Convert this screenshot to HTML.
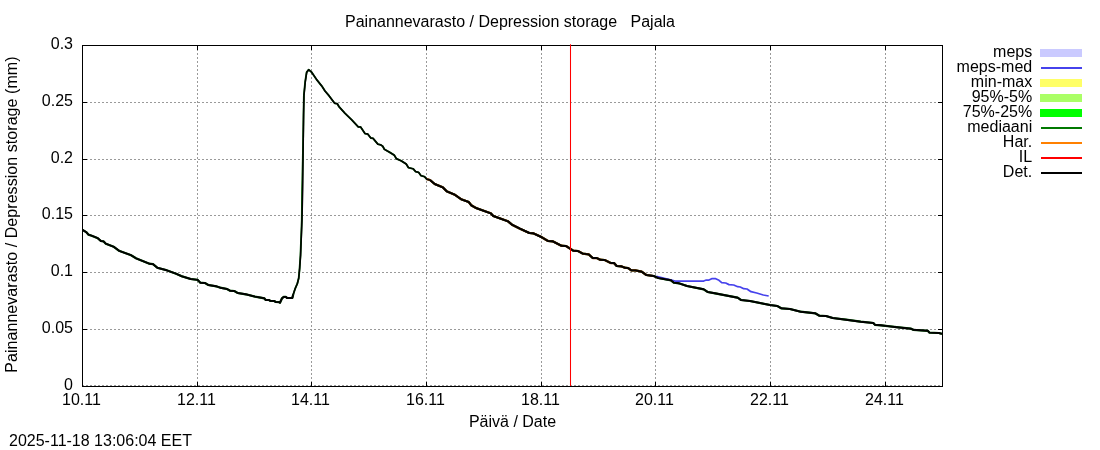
<!DOCTYPE html>
<html><head><meta charset="utf-8"><title>Painannevarasto / Depression storage Pajala</title>
<style>html,body{margin:0;padding:0;background:#fff;}svg{display:block;}text{font-family:"Liberation Sans",sans-serif;font-size:16px;fill:#000;}</style></head><body>
<svg width="1100" height="450" viewBox="0 0 1100 450" style="will-change:transform">
<rect x="0" y="0" width="1100" height="450" fill="#ffffff"/>
<g stroke="#9a9a9a" stroke-width="1" stroke-dasharray="2 2" fill="none">
<line x1="82" y1="102.5" x2="942" y2="102.5"/>
<line x1="82" y1="159.5" x2="942" y2="159.5"/>
<line x1="82" y1="215.5" x2="942" y2="215.5"/>
<line x1="82" y1="272.5" x2="942" y2="272.5"/>
<line x1="82" y1="329.5" x2="942" y2="329.5"/>
<line x1="82" y1="385.5" x2="942" y2="385.5"/>
<line x1="197.5" y1="45" x2="197.5" y2="386"/>
<line x1="311.5" y1="45" x2="311.5" y2="386"/>
<line x1="426.5" y1="45" x2="426.5" y2="386"/>
<line x1="541.5" y1="45" x2="541.5" y2="386"/>
<line x1="655.5" y1="45" x2="655.5" y2="386"/>
<line x1="770.5" y1="45" x2="770.5" y2="386"/>
<line x1="885.5" y1="45" x2="885.5" y2="386"/>
</g>
<g stroke="#000" stroke-width="1" fill="none">
<line x1="82" y1="102.5" x2="87" y2="102.5"/>
<line x1="943" y1="102.5" x2="938" y2="102.5"/>
<line x1="82" y1="159.5" x2="87" y2="159.5"/>
<line x1="943" y1="159.5" x2="938" y2="159.5"/>
<line x1="82" y1="215.5" x2="87" y2="215.5"/>
<line x1="943" y1="215.5" x2="938" y2="215.5"/>
<line x1="82" y1="272.5" x2="87" y2="272.5"/>
<line x1="943" y1="272.5" x2="938" y2="272.5"/>
<line x1="82" y1="329.5" x2="87" y2="329.5"/>
<line x1="943" y1="329.5" x2="938" y2="329.5"/>
<line x1="197.5" y1="386" x2="197.5" y2="382"/>
<line x1="197.5" y1="45" x2="197.5" y2="50"/>
<line x1="311.5" y1="386" x2="311.5" y2="382"/>
<line x1="311.5" y1="45" x2="311.5" y2="50"/>
<line x1="426.5" y1="386" x2="426.5" y2="382"/>
<line x1="426.5" y1="45" x2="426.5" y2="50"/>
<line x1="541.5" y1="386" x2="541.5" y2="382"/>
<line x1="541.5" y1="45" x2="541.5" y2="50"/>
<line x1="655.5" y1="386" x2="655.5" y2="382"/>
<line x1="655.5" y1="45" x2="655.5" y2="50"/>
<line x1="770.5" y1="386" x2="770.5" y2="382"/>
<line x1="770.5" y1="45" x2="770.5" y2="50"/>
<line x1="885.5" y1="386" x2="885.5" y2="382"/>
<line x1="885.5" y1="45" x2="885.5" y2="50"/>
</g>
<g fill="none" stroke-linejoin="round" stroke-linecap="butt">
<polyline stroke="#005800" stroke-width="2.2" points="82.5,229.9 86.2,232.1 88.4,234.6 91.6,235.7 97.8,238.2 100.9,241.0 103.6,241.4 105.8,243.7 113.8,246.8 119.1,250.8 131.1,255.2 136.0,258.3 149.3,263.7 152.9,264.1 157.3,267.7 166.7,270.3 176.0,273.7 181.3,276.1 190.7,279.0 197.7,279.9 200.3,282.7 205.0,283.0 208.3,285.0 216.3,286.3 220.3,287.7 227.0,289.0 230.0,290.7 234.3,291.0 237.7,293.0 245.7,294.3 255.0,296.6 264.3,298.3 265.7,300.0 269.0,300.0 270.3,300.9 274.3,301.0 275.7,302.0 279.0,302.1 280.0,302.7 282.0,298.3 283.7,296.9 286.0,296.9 287.0,298.0 292.3,298.0 293.3,294.3"/>
<polyline stroke="#005800" stroke-width="1.85" points="293.3,294.3 295.3,288.3 297.3,283.7 298.7,278.3 299.6,268.3 300.5,255.0 301.8,220.0 302.1,190.0 302.8,160.0 303.5,115.0 303.9,95.0 305.2,81.7 306.6,72.3 308.7,69.7 311.7,72.3 316.7,79.7 322.0,86.3 325.0,91.0 329.0,95.7 333.7,102.0 334.7,103.3 337.3,103.7 339.0,106.7 345.0,113.3 351.7,119.8 358.3,126.9 360.6,126.9 365.0,133.6 367.7,134.0 370.8,138.0 373.0,138.3 377.9,144.2 380.6,144.8 382.7,146.2 384.4,149.3 389.8,152.4 394.2,155.1 396.4,158.7 401.3,160.9 406.2,164.0 408.4,167.6 413.3,168.9 415.6,171.6 418.7,172.4 420.9,175.6 424.4,176.6 426.7,179.1 430.0,180.0"/>
<polyline stroke="#005800" stroke-width="2.2" points="430.0,180.0 434.7,184.0 442.7,187.3 446.7,191.3 454.7,194.7 461.3,199.3 468.7,202.0 471.3,205.3 476.0,208.0 490.7,213.3 493.3,216.0 508.0,221.3 512.0,224.7 520.0,228.7 529.3,233.0 533.3,233.3 541.3,237.0 548.0,241.0 552.7,241.3 561.3,245.7 566.0,246.0 573.3,250.7 578.0,251.0 582.7,253.6 588.7,254.4 592.7,258.0 596.7,258.0 600.0,259.7 604.7,260.0 610.7,263.0 614.0,263.0 616.7,266.0 621.3,266.3 624.7,267.7 628.0,268.0 631.3,270.3 635.3,270.4 641.7,271.7 646.3,275.0 653.7,276.0 658.3,278.0 671.0,280.3 673.7,282.6 679.0,283.3 687.0,286.0 703.7,289.3 707.7,292.0 715.0,293.3 737.7,297.7 741.0,300.0 750.0,301.0 770.0,305.0 777.3,306.0 781.3,308.3 790.0,309.0 800.7,311.7 815.3,313.3 819.3,315.7 826.0,316.0 832.7,318.0 846.0,319.7 860.7,321.7 873.3,323.0 875.0,324.8 881.0,325.3 887.8,326.1 896.7,327.2 911.0,328.7 913.3,329.8 927.8,330.8 929.4,332.6 938.9,333.0 942.0,333.9"/>
<polyline stroke="#8a3000" stroke-width="2.25" points="426.7,179.1 430.0,180.0 434.7,184.0 442.7,187.3 446.7,191.3 454.7,194.7 461.3,199.3 468.7,202.0 471.3,205.3 476.0,208.0 490.7,213.3 493.3,216.0 508.0,221.3 512.0,224.7 520.0,228.7 529.3,233.0 533.3,233.3 541.3,237.0 548.0,241.0 552.7,241.3 561.3,245.7 566.0,246.0 573.3,250.7 578.0,251.0 582.7,253.6 588.7,254.4 592.7,258.0 596.7,258.0 600.0,259.7 604.7,260.0 610.7,263.0 614.0,263.0 616.7,266.0 621.3,266.3 624.7,267.7 628.0,268.0 631.3,270.3 635.3,270.4 641.7,271.7 646.3,275.0 653.7,276.0"/>
<polyline stroke="#4642ec" stroke-width="1.75" points="656.3,276.3 672.3,280.3 675.0,281.0 703.7,281.0 706.3,280.0 709.0,280.0 711.7,278.7 715.7,278.7 719.0,280.3 721.7,282.7 725.7,283.0 729.0,284.6 733.7,285.0 737.7,286.7 740.3,287.0 743.7,288.7 747.0,289.0 751.0,291.7 756.7,293.0 763.3,295.0 768.7,296.0"/>
<polyline stroke="#000000" stroke-width="1.95" points="82.5,229.9 86.2,232.1 88.4,234.6 91.6,235.7 97.8,238.2 100.9,241.0 103.6,241.4 105.8,243.7 113.8,246.8 119.1,250.8 131.1,255.2 136.0,258.3 149.3,263.7 152.9,264.1 157.3,267.7 166.7,270.3 176.0,273.7 181.3,276.1 190.7,279.0 197.7,279.9 200.3,282.7 205.0,283.0 208.3,285.0 216.3,286.3 220.3,287.7 227.0,289.0 230.0,290.7 234.3,291.0 237.7,293.0 245.7,294.3 255.0,296.6 264.3,298.3 265.7,300.0 269.0,300.0 270.3,300.9 274.3,301.0 275.7,302.0 279.0,302.1 280.0,302.7 282.0,298.3 283.7,296.9 286.0,296.9 287.0,298.0 292.3,298.0 293.3,294.3"/>
<polyline stroke="#000000" stroke-width="1.5" points="293.3,294.3 295.3,288.3 297.3,283.7 298.7,278.3 299.7,268.3 300.6,255.0 302.0,220.0 302.7,190.0 303.0,160.0 303.6,115.0 304.0,95.0 305.3,81.7 306.7,72.3 308.7,69.7 311.7,72.3 316.7,79.7 322.0,86.3 325.0,91.0 329.0,95.7 333.7,102.0 334.7,103.3 337.3,103.7 339.0,106.7 345.0,113.3 351.7,119.8 358.3,126.9 360.6,126.9 365.0,133.6 367.7,134.0 370.8,138.0 373.0,138.3 377.9,144.2 380.6,144.8 382.7,146.2 384.4,149.3 389.8,152.4 394.2,155.1 396.4,158.7 401.3,160.9 406.2,164.0 408.4,167.6 413.3,168.9 415.6,171.6 418.7,172.4 420.9,175.6 424.4,176.6 426.7,179.1 430.0,180.0"/>
<polyline stroke="#000000" stroke-width="1.95" points="430.0,180.0 434.7,184.0 442.7,187.3 446.7,191.3 454.7,194.7 461.3,199.3 468.7,202.0 471.3,205.3 476.0,208.0 490.7,213.3 493.3,216.0 508.0,221.3 512.0,224.7 520.0,228.7 529.3,233.0 533.3,233.3 541.3,237.0 548.0,241.0 552.7,241.3 561.3,245.7 566.0,246.0 573.3,250.7 578.0,251.0 582.7,253.6 588.7,254.4 592.7,258.0 596.7,258.0 600.0,259.7 604.7,260.0 610.7,263.0 614.0,263.0 616.7,266.0 621.3,266.3 624.7,267.7 628.0,268.0 631.3,270.3 635.3,270.4 641.7,271.7 646.3,275.0 653.7,276.0 658.3,278.0 671.0,280.3 673.7,282.6 679.0,283.3 687.0,286.0 703.7,289.3 707.7,292.0 715.0,293.3 737.7,297.7 741.0,300.0 750.0,301.0 770.0,305.0 777.3,306.0 781.3,308.3 790.0,309.0 800.7,311.7 815.3,313.3 819.3,315.7 826.0,316.0 832.7,318.0 846.0,319.7 860.7,321.7 873.3,323.0 875.0,324.8 881.0,325.3 887.8,326.1 896.7,327.2 911.0,328.7 913.3,329.8 927.8,330.8 929.4,332.6 938.9,333.0 942.0,333.9"/>
</g>
<rect x="82.5" y="45.5" width="860" height="341" fill="none" stroke="#000" stroke-width="1"/>
<line x1="570.5" y1="44.2" x2="570.5" y2="386" stroke="#ff0000" stroke-width="1.05"/>
<text x="73" y="48.6" text-anchor="end">0.3</text>
<text x="73" y="105.6" text-anchor="end">0.25</text>
<text x="73" y="162.6" text-anchor="end">0.2</text>
<text x="73" y="218.6" text-anchor="end">0.15</text>
<text x="73" y="275.6" text-anchor="end">0.1</text>
<text x="73" y="332.6" text-anchor="end">0.05</text>
<text x="73" y="389.6" text-anchor="end">0</text>
<text x="81.5" y="405" text-anchor="middle">10.11</text>
<text x="196.5" y="405" text-anchor="middle">12.11</text>
<text x="310.5" y="405" text-anchor="middle">14.11</text>
<text x="425.5" y="405" text-anchor="middle">16.11</text>
<text x="540.5" y="405" text-anchor="middle">18.11</text>
<text x="654.5" y="405" text-anchor="middle">20.11</text>
<text x="769.5" y="405" text-anchor="middle">22.11</text>
<text x="884.5" y="405" text-anchor="middle">24.11</text>
<text x="510" y="27" text-anchor="middle" style="white-space:pre">Painannevarasto / Depression storage   Pajala</text>
<text x="512.5" y="427" text-anchor="middle">Päivä / Date</text>
<text x="9" y="445.5">2025-11-18 13:06:04 EET</text>
<text transform="translate(17,214.6) rotate(-90)" text-anchor="middle" style="letter-spacing:0.06px">Painannevarasto / Depression storage (mm)</text>
<text x="1032.2" y="56.6" text-anchor="end">meps</text>
<rect x="1040" y="49" width="42" height="8" fill="#cacaff"/>
<text x="1032.2" y="71.6" text-anchor="end">meps-med</text>
<line x1="1041" y1="68" x2="1082" y2="68" stroke="#4642ec" stroke-width="2"/>
<text x="1032.2" y="86.6" text-anchor="end">min-max</text>
<rect x="1040" y="79" width="42" height="8" fill="#ffff66"/>
<text x="1032.2" y="101.6" text-anchor="end">95%-5%</text>
<rect x="1040" y="94" width="42" height="8" fill="#aaff66"/>
<text x="1032.2" y="116.6" text-anchor="end">75%-25%</text>
<rect x="1040" y="109" width="42" height="8" fill="#00ff00"/>
<text x="1032.2" y="131.6" text-anchor="end">mediaani</text>
<line x1="1041" y1="128" x2="1082" y2="128" stroke="#007800" stroke-width="2"/>
<text x="1032.2" y="146.6" text-anchor="end">Har.</text>
<line x1="1041" y1="143" x2="1082" y2="143" stroke="#ff8000" stroke-width="2"/>
<text x="1032.2" y="161.6" text-anchor="end">IL</text>
<line x1="1041" y1="158" x2="1082" y2="158" stroke="#ff0000" stroke-width="2"/>
<text x="1032.2" y="176.6" text-anchor="end">Det.</text>
<line x1="1041" y1="173" x2="1082" y2="173" stroke="#000000" stroke-width="2"/>
</svg></body></html>
